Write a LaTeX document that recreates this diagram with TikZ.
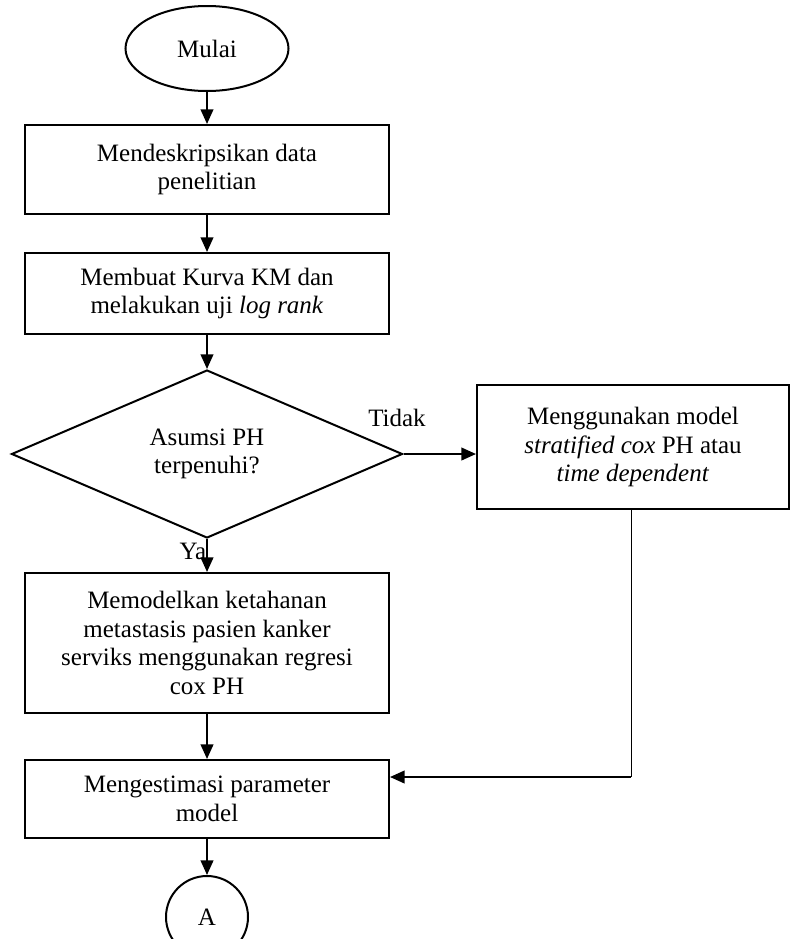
\documentclass[tikz,border=0pt]{standalone}
\usepackage{fontspec}
\setmainfont{Liberation Serif}
\usetikzlibrary{shapes.geometric,arrows.meta}

\begin{document}
\begin{tikzpicture}[x=0.75pt,y=0.75pt,yscale=-1,xscale=1,
  every node/.style={font=\fontsize{18.75pt}{21.5pt}\selectfont, align=center, inner sep=0pt},
  prosesbox/.style={draw, rectangle, line width=1.5pt, minimum width=273pt},
  terminal/.style={draw, ellipse, line width=1.5pt},
  keputusan/.style={draw, diamond, line width=1.5pt, minimum width=293.25pt, minimum height=126pt},
  panah/.style={line width=1.5pt, -{Triangle[length=11pt,width=9.5pt]}},
  garis/.style={line width=0.75pt}]
\useasboundingbox (0,0) rectangle (790,939);

%Terminal: Mulai
\node[terminal, minimum width=122.25pt, minimum height=63.75pt] (mulai) at (207,48.5) {Mulai};

%Proses
\node[prosesbox, minimum height=66.75pt] (deskripsi) at (207,169.5) {Mendeskripsikan data\\penelitian};
\node[prosesbox, minimum height=60.75pt] (kurva) at (207,293.5) {Membuat Kurva KM dan\\melakukan uji \textit{log rank}};

%Keputusan
\node[keputusan] (asumsi) at (207,454) {Asumsi PH\\terpenuhi?};

\node[prosesbox, minimum height=105pt] (model) at (207,643) {Memodelkan ketahanan\\metastasis pasien kanker\\serviks menggunakan regresi\\cox PH};
\node[prosesbox, minimum height=58.5pt] (estimasi) at (207,799) {Mengestimasi parameter\\model};
\node[prosesbox, minimum width=234pt, minimum height=93pt] (alternatif) at (633,447) {Menggunakan model\\\textit{stratified cox} PH atau\\\textit{time dependent}};

%Konektor A
\node[terminal, minimum width=61.5pt, minimum height=61.5pt] (konektor) at (207,917) {A};

%Label
\node (ya) at (193,551) {Ya};
\node (tidak) at (397,418) {Tidak};

%Panah
\draw[panah] (mulai) -- (deskripsi);
\draw[panah] (deskripsi) -- (kurva);
\draw[panah] (kurva) -- (asumsi);
\draw[panah] (asumsi) -- (model);
\draw[panah] (model) -- (estimasi);
\draw[panah] (estimasi) -- (konektor);
\draw[panah] (asumsi.east) -- (asumsi.east -| alternatif.west);

\coordinate (sudut) at (631,777);
\draw[garis] (alternatif.south -| sudut) -- (sudut);
\draw[panah] (sudut) -- (sudut -| estimasi.east);

\end{tikzpicture}
\end{document}
